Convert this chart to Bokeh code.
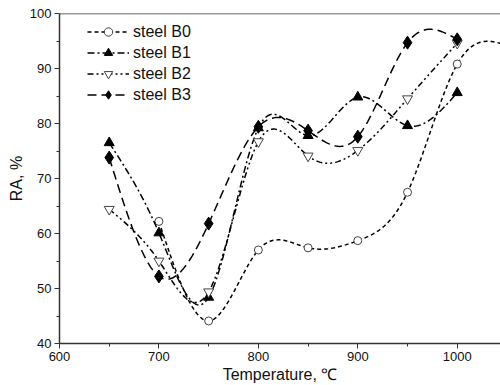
import numpy as np
from bokeh.plotting import figure
from bokeh.models import FixedTicker, Span, Legend, LegendItem, Range1d
from bokeh.embed import file_html
from bokeh.resources import INLINE

# ---- data ----
temps = [650, 700, 750, 800, 850, 900, 950, 1000]
b0_temps = [700, 750, 800, 850, 900, 950, 1000, 1050]
b0 = [62.2, 44.1, 57.0, 57.4, 58.7, 67.5, 90.8, 94.2]
b1 = [76.5, 60.1, 48.4, 79.2, 77.8, 84.8, 79.6, 85.6]
b2 = [64.4, 55.0, 49.4, 76.7, 74.1, 75.1, 84.5, 94.6]
b3 = [73.8, 52.2, 61.8, 79.4, 78.7, 77.6, 94.7, 95.3]
labels = ["steel B0", "steel B1", "steel B2", "steel B3"]
x_ticks = [600, 700, 800, 900, 1000]
y_ticks = [40, 50, 60, 70, 80, 90, 100]


def natural_spline(x, y, n=30):
    """Smooth connecting line through the data points (natural cubic spline)."""
    x = np.asarray(x, float)
    y = np.asarray(y, float)
    k = len(x)
    h = np.diff(x)
    A = np.zeros((k, k))
    r = np.zeros(k)
    A[0, 0] = 1
    A[-1, -1] = 1
    for i in range(1, k - 1):
        A[i, i - 1] = h[i - 1]
        A[i, i] = 2 * (h[i - 1] + h[i])
        A[i, i + 1] = h[i]
        r[i] = 6 * ((y[i + 1] - y[i]) / h[i] - (y[i] - y[i - 1]) / h[i - 1])
    M = np.linalg.solve(A, r)
    xs, ys = [], []
    for i in range(k - 1):
        t = np.linspace(x[i], x[i + 1], n, endpoint=(i == k - 2))
        a = x[i + 1] - t
        b = t - x[i]
        s = (M[i] * a ** 3 / (6 * h[i]) + M[i + 1] * b ** 3 / (6 * h[i])
             + (y[i] / h[i] - M[i] * h[i] / 6) * a
             + (y[i + 1] / h[i] - M[i + 1] * h[i] / 6) * b)
        xs.extend(t)
        ys.extend(s)
    return xs, ys


FONT = "Liberation Sans"

p = figure(width=500, height=385, output_backend="svg", toolbar_location=None,
           x_range=Range1d(600, 1043.5), y_range=Range1d(40, 100),
           min_border_left=59, min_border_top=13, min_border_right=0,
           min_border_bottom=42)
p.outline_line_color = None
p.xgrid.visible = False
p.ygrid.visible = False
p.background_fill_color = "white"

p.xaxis.ticker = FixedTicker(ticks=x_ticks, minor_ticks=[650, 750, 850, 950, 1050])
p.yaxis.ticker = FixedTicker(ticks=y_ticks,
                             minor_ticks=[45, 55, 65, 75, 85, 95])
for ax in (p.xaxis[0], p.yaxis[0]):
    ax.axis_line_color = "#333333"
    ax.axis_line_width = 1.5
    ax.major_tick_in = 0
    ax.major_tick_out = 5
    ax.minor_tick_in = 0
    ax.minor_tick_out = 3
    ax.major_tick_line_color = "#333333"
    ax.minor_tick_line_color = "#333333"
    ax.major_label_text_font = FONT
    ax.major_label_text_font_size = "13px"
    ax.major_label_text_color = "#111111"
    ax.axis_label_text_font = FONT
    ax.axis_label_text_font_size = "16px"
    ax.axis_label_text_font_style = "normal"
    ax.axis_label_text_color = "#111111"
    ax.major_label_standoff = 3
    ax.axis_label_standoff = 2
p.xaxis.axis_label = "Temperature, ℃"
p.yaxis.axis_label = "RA, %"

p.add_layout(Span(location=100, dimension="width", line_color="#333333",
                  line_width=1.5))

series = [
    (b0_temps, b0, "4 3", "circle", "white", 8),
    (temps, b1, "7 3 2 3", "triangle", "black", 10),
    (temps, b2, "6 3 2 3 2 3", "inverted_triangle", "white", 10),
    (temps, b3, "9 5", "diamond", "black", 13),
]
items = []
for (xs, ys, dash, marker, fill, sz), lab in zip(series, labels):
    sx, sy = natural_spline(xs, ys)
    lr = p.line(sx, sy, line_color="black", line_width=1.5, line_dash=dash)
    mr = p.scatter(xs, ys, marker=marker, size=sz, fill_color=fill,
                   line_color="black" if fill == "black" else "#444444",
                   line_width=1)
    items.append(LegendItem(label=lab, renderers=[lr, mr]))

legend = Legend(items=items, location=(28, 238), margin=0, padding=0,
                spacing=0, glyph_width=42, glyph_height=21, label_height=21,
                label_standoff=4, label_text_font=FONT,
                label_text_font_size="16px", label_text_color="#111111",
                border_line_color=None, background_fill_alpha=0)
p.add_layout(legend)

open("out.html", "w").write(file_html(p, INLINE))
